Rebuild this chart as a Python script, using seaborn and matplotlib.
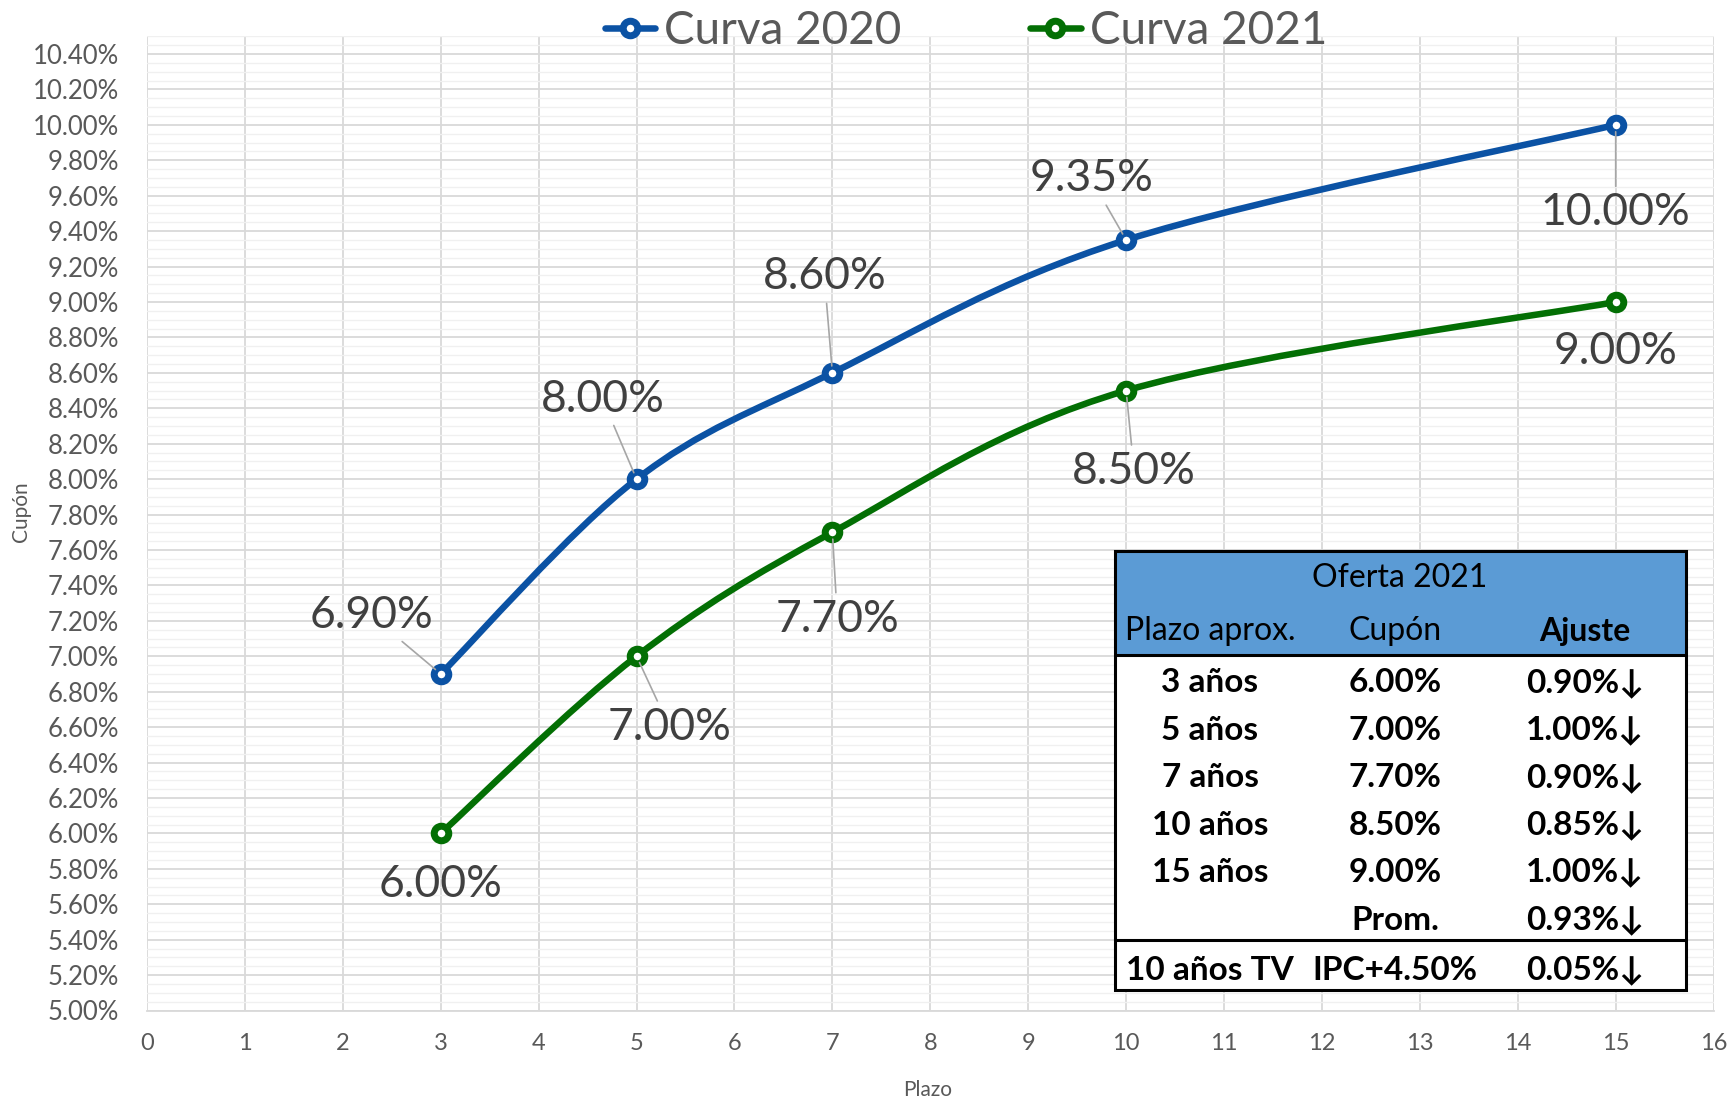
import numpy as np
import matplotlib
matplotlib.use("Agg")
import matplotlib.pyplot as plt
from matplotlib.path import Path
from matplotlib.patches import PathPatch, Rectangle
from matplotlib.lines import Line2D
from matplotlib.ticker import MultipleLocator, FuncFormatter
import seaborn as sns

# data
plazo = [3, 5, 7, 10, 15]
curva_2020 = [6.90, 8.00, 8.60, 9.35, 10.00]
curva_2021 = [6.00, 7.00, 7.70, 8.50, 9.00]
series_names = ["Curva 2020", "Curva 2021"]

tabla_titulo = "Oferta 2021"
tabla_encabezado = ["Plazo aprox.", "Cupón", "Ajuste"]
tabla_plazo = ["3 años", "5 años", "7 años", "10 años", "15 años", ""]
tabla_cupon = ["6.00%", "7.00%", "7.70%", "8.50%", "9.00%", "Prom."]
tabla_ajuste = ["0.90%↓", "1.00%↓", "0.90%↓", "0.85%↓", "1.00%↓", "0.93%↓"]
tabla_tv = ["10 años TV", "IPC+4.50%", "0.05%↓"]

# styling
colors = ["#0B52A4", "#036F04"]
# label offsets in pixels (dx, dy up) from each point
offsets_2020 = [(-69, 58), (-34, 80), (-8, 96), (-35, 61), (0, -88)]
offsets_2021 = [(0, -51), (33, -71), (5, -87), (8, -81), (0, -50)]

W, H = 1728, 1101
TXT = "#595959"
LW, MS, MEW = 4.7, 10.5, 5.0


def fx(px):
    return px / W


def fy(py):
    return 1 - py / H


def smooth_path(xs, ys):
    # Excel-style smoothed line (Catmull-Rom as cubic Bezier)
    pts = np.column_stack([xs, ys]).astype(float)
    n = len(pts)
    verts = [pts[0]]
    codes = [Path.MOVETO]
    for i in range(n - 1):
        p0 = pts[max(i - 1, 0)]
        p1 = pts[i]
        p2 = pts[i + 1]
        p3 = pts[min(i + 2, n - 1)]
        verts += [p1 + (p2 - p0) / 6, p2 - (p3 - p1) / 6, p2]
        codes += [Path.CURVE4] * 3
    return Path(verts, codes)


sns.set_style("white")
plt.rcParams["font.family"] = ["Lato", "DejaVu Sans"]

fig = plt.figure(figsize=(W / 100, H / 100), dpi=100)
ax = fig.add_axes([fx(147), fy(1010.5), (1713.6 - 147) / W, (1010.5 - 36.3) / H])

for vals, color, offs in [(curva_2020, colors[0], offsets_2020),
                          (curva_2021, colors[1], offsets_2021)]:
    ax.add_patch(PathPatch(smooth_path(plazo, vals), fill=False, edgecolor=color,
                           lw=LW, capstyle="round", joinstyle="round", zorder=3))
    sns.scatterplot(x=plazo, y=vals, ax=ax, s=MS ** 2, color="white", edgecolor=color,
                    linewidth=MEW, zorder=4, legend=False)
    for x, y, (dx, dy) in zip(plazo, vals, offs):
        arrow = None
        if np.hypot(dx, dy) > 60:
            arrow = dict(arrowstyle="-", color="#A6A6A6", lw=1.2, shrinkA=2, shrinkB=5)
        ax.annotate(f"{y:.2f}%", xy=(x, y), xytext=(dx, dy), textcoords="offset pixels",
                    ha="center", va="center", fontsize=32, color="#404040",
                    arrowprops=arrow, zorder=5)

ax.set_xlim(0, 16)
ax.set_ylim(5.0, 10.5)
ax.xaxis.set_major_locator(MultipleLocator(1))
ax.yaxis.set_major_locator(MultipleLocator(0.2))
ax.yaxis.set_minor_locator(MultipleLocator(0.05))
ax.yaxis.set_major_formatter(FuncFormatter(lambda v, p: f"{v:.2f}%"))
ax.set_axisbelow(True)
ax.grid(which="major", color="#D9D9D9", lw=1.3)
ax.grid(which="minor", axis="y", color="#F0F0F0", lw=1.0)
for s in ["top", "right", "left"]:
    ax.spines[s].set_visible(False)
ax.spines["bottom"].set_color("#D9D9D9")
ax.spines["bottom"].set_linewidth(1.3)
ax.tick_params(axis="x", direction="out", length=4, width=1.3, color="#D9D9D9",
               labelsize=17, labelcolor=TXT, pad=12)
ax.tick_params(axis="y", which="both", length=0, labelsize=18.5, labelcolor=TXT, pad=20)

ax.set_xlabel("Plazo", fontsize=15, color=TXT)
ax.set_ylabel("Cupón", fontsize=15, color=TXT)
ax.xaxis.set_label_coords(0.4985, -0.071)
ax.yaxis.set_label_coords(-0.074, 0.512)

handles = [Line2D([], [], color=c, lw=LW, marker="o", ms=MS, mfc="white", mec=c, mew=MEW)
           for c in colors]
fig.legend(handles, series_names, loc="center", bbox_to_anchor=(fx(966), fy(31)), ncol=2,
           frameon=False, fontsize=33, handlelength=1.1, handletextpad=0.2,
           columnspacing=2.8, labelcolor=TXT)

# table box
tl, tr, tt, tb = 1115, 1686, 551, 990
hdr_bottom, sep = 655, 940
tf = fig.transFigure
ax.add_patch(Rectangle((fx(tl), fy(tb)), fx(tr) - fx(tl), fy(tt) - fy(tb), transform=tf,
                       facecolor="white", edgecolor="none", zorder=10, clip_on=False))
ax.add_patch(Rectangle((fx(tl), fy(hdr_bottom)), fx(tr) - fx(tl), fy(tt) - fy(hdr_bottom),
                       transform=tf, facecolor="#5B9BD5", edgecolor="none", zorder=10,
                       clip_on=False))
ax.add_patch(Rectangle((fx(tl), fy(tb)), fx(tr) - fx(tl), fy(tt) - fy(tb), transform=tf,
                       facecolor="none", edgecolor="black", lw=2.2, zorder=12, clip_on=False))
for yy in [hdr_bottom, sep]:
    ax.add_line(Line2D([fx(tl), fx(tr)], [fy(yy), fy(yy)], transform=tf, color="black",
                       lw=2.2, zorder=12, clip_on=False))

col_x = [1210, 1395, 1585]
ax.text(fx(1400), fy(578), tabla_titulo, transform=tf, ha="center", va="center",
        fontsize=23, color="black", zorder=13)
for i, t in enumerate(tabla_encabezado):
    ax.text(fx(col_x[i]), fy(631), t, transform=tf, ha="center", va="center", fontsize=23,
            color="black", fontweight="bold" if i == 2 else "normal", zorder=13)
for r, (a, b, c) in enumerate(zip(tabla_plazo, tabla_cupon, tabla_ajuste)):
    yy = 683 + r * 47.4
    for i, t in enumerate([a, b, c]):
        ax.text(fx(col_x[i]), fy(yy), t, transform=tf, ha="center", va="center",
                fontsize=24, fontweight="bold", color="black", zorder=13)
for i, t in enumerate(tabla_tv):
    ax.text(fx(col_x[i]), fy(970), t, transform=tf, ha="center", va="center",
            fontsize=24, fontweight="bold", color="black", zorder=13)

fig.savefig("out.png", dpi=100)
